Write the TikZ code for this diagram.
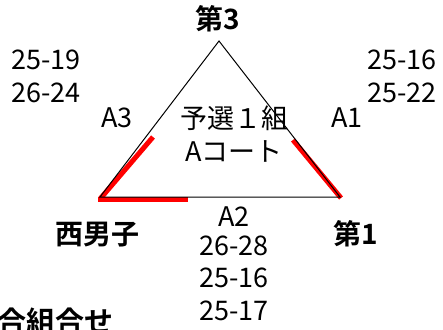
\documentclass[tikz,border=0pt]{standalone}
\usepackage{fontspec}
\setmainfont{Noto Sans CJK JP}
\newfontfamily\jpbold{Noto Sans CJK JP Bold}
\usepackage{tikz}

\tikzset{
	score/.style={inner sep=0pt, font=\fontsize{27}{30}\selectfont},
	team/.style={inner sep=0pt, font=\jpbold\fontsize{28}{30}\selectfont},
	hit/.style={draw=red, line width=5pt},
}

\begin{document}
\begin{tikzpicture}[x=1pt, y=-1pt]
				\useasboundingbox (0,0) rectangle (443,329);
				\coordinate (v3) at (219,41);
				\coordinate (vN) at (100,197);
				\coordinate (v1) at (340,197);
				% red marks first, line on top
				\draw[hit] (100,199) -- (153,137);
				\draw[hit] (98,199.5) -- (188,199.5);
				\draw[hit] (293,140) -- (341,198);
				\draw[line width=1pt] (v3) -- (v1) -- (vN) -- cycle;
				\node[team] (t3) at (218,19) {第3};
				\node[team] (tN) at (97,235) {西男子};
				\node[team] (t1) at (356,234) {第1};
				\node[score] (g) at (234,118) {予選１組};
				\node[score] (c) at (234,151) {Aコート};
				\node[score] (a3) at (117,118) {A3};
				\node[score] (a1) at (347,118) {A1};
				\node[score] (a2) at (234,217) {A2};
				\node[score] (s31) at (46,60) {25-19};
				\node[score] (s32) at (46,93) {26-24};
				\node[score] (s11) at (402,60) {25-16};
				\node[score] (s12) at (402,93) {25-22};
				\node[score] (s21) at (234,246) {26-28};
				\node[score] (s22) at (234,278) {25-16};
				\node[score] (s23) at (234,311) {25-17};
				\node[team, anchor=base west, font=\jpbold\fontsize{29}{30}\selectfont] (ttl) at (-3,332) {合組合せ};
			\end{tikzpicture}
\end{document}
